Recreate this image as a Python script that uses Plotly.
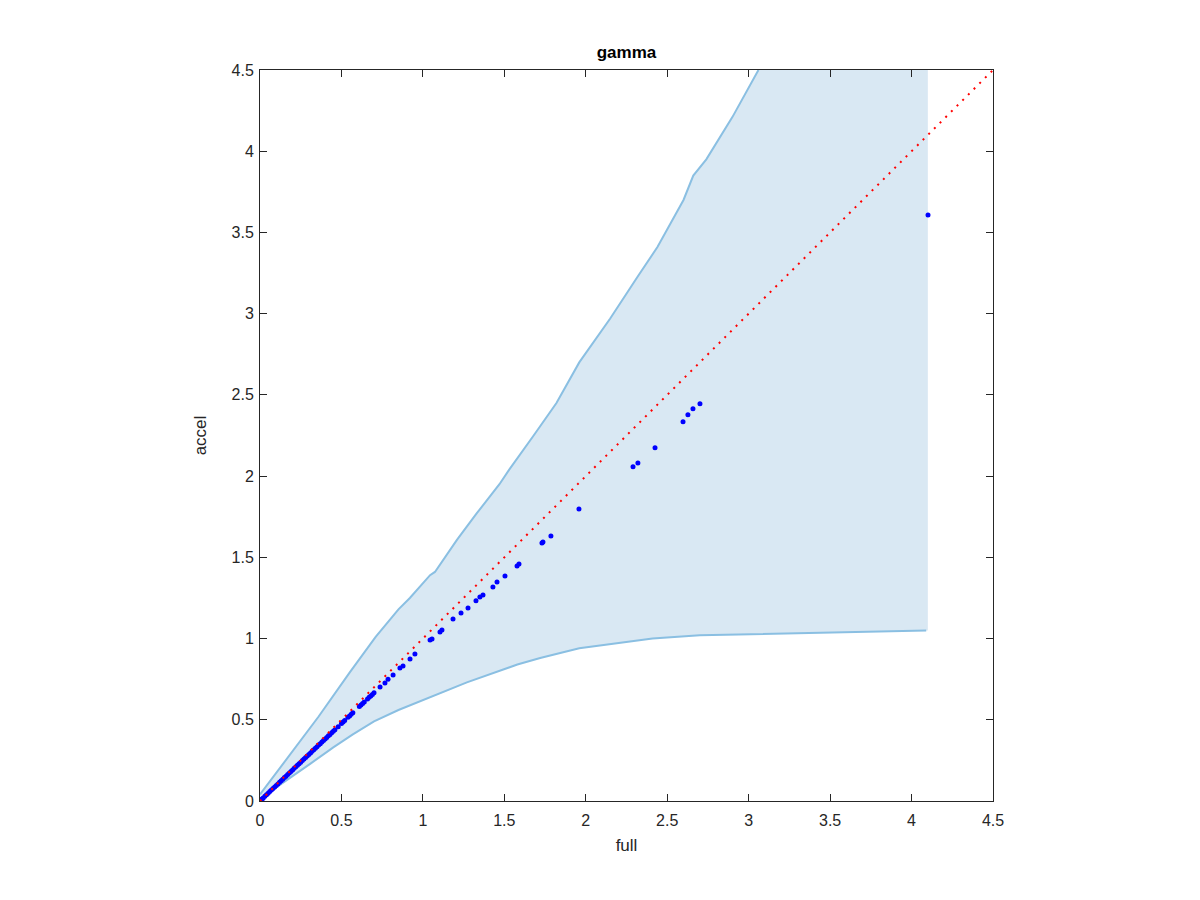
import plotly.graph_objects as go

# Envelope (upper / lower bounds)
upper_x = [0.0, 0.15, 0.36, 0.55, 0.71, 0.85, 0.92, 1.044, 1.074, 1.209, 1.33, 1.47, 1.53,
           1.68, 1.82, 1.96, 2.15, 2.32, 2.44, 2.60, 2.66, 2.74, 2.90, 3.06]
upper_y = [0.04, 0.24, 0.52, 0.79, 1.01, 1.18, 1.25, 1.39, 1.41, 1.607, 1.77, 1.95, 2.04,
           2.25, 2.45, 2.70, 2.97, 3.23, 3.41, 3.70, 3.85, 3.95, 4.21, 4.50]
lower_x = [0.0, 0.08, 0.31, 0.45, 0.57, 0.70, 0.85, 1.0, 1.13, 1.27, 1.58, 1.72, 1.96, 2.41,
           2.70, 4.09]
lower_y = [0.0, 0.07, 0.23, 0.33, 0.41, 0.49, 0.56, 0.62, 0.67, 0.73, 0.84, 0.88, 0.94, 1.00,
           1.02, 1.05]
fill_right_x = 4.1

# full vs accel estimates
full = [0.0, 0.01, 0.015, 0.02, 0.03, 0.04, 0.05, 0.06, 0.07, 0.08, 0.09, 0.10, 0.11, 0.12,
        0.13, 0.14, 0.15, 0.16, 0.17, 0.18, 0.19, 0.20, 0.21, 0.22, 0.23, 0.24, 0.25, 0.26,
        0.27, 0.28, 0.29, 0.30, 0.31, 0.32, 0.33, 0.34, 0.35, 0.36, 0.37, 0.38, 0.39, 0.40,
        0.41, 0.42, 0.43, 0.44, 0.45, 0.46, 0.48, 0.50, 0.51, 0.52, 0.54, 0.55, 0.56, 0.57,
        0.61, 0.62, 0.63, 0.64, 0.66, 0.67, 0.68, 0.69, 0.70,
        0.737, 0.767, 0.786, 0.817, 0.859, 0.878, 0.921, 0.951, 1.044, 1.056, 1.105, 1.117,
        1.185, 1.234, 1.277, 1.326, 1.350, 1.369, 1.430, 1.455, 1.504, 1.578, 1.590, 1.731,
        1.737, 1.786, 1.958, 2.290, 2.320, 2.425, 2.597, 2.627, 2.658, 2.701, 4.101]
accel = [0.0, 0.01, 0.014, 0.019, 0.029, 0.038, 0.048, 0.058, 0.067, 0.077, 0.086, 0.096, 0.105,
         0.115, 0.125, 0.134, 0.144, 0.153, 0.163, 0.172, 0.182, 0.191, 0.201, 0.211, 0.220,
         0.230, 0.239, 0.249, 0.258, 0.268, 0.277, 0.287, 0.296, 0.306, 0.315, 0.325, 0.334,
         0.344, 0.353, 0.363, 0.372, 0.382, 0.391, 0.401, 0.410, 0.420, 0.429, 0.439, 0.457,
         0.477, 0.487, 0.496, 0.515, 0.524, 0.534, 0.543, 0.581, 0.591, 0.600, 0.610, 0.628,
         0.638, 0.647, 0.656, 0.666,
         0.702, 0.727, 0.750, 0.776, 0.819, 0.831, 0.874, 0.905, 0.991, 0.998, 1.041, 1.053,
         1.121, 1.158, 1.188, 1.232, 1.256, 1.268, 1.318, 1.348, 1.385, 1.447, 1.459, 1.589,
         1.595, 1.632, 1.798, 2.057, 2.081, 2.174, 2.334, 2.377, 2.414, 2.445, 3.608]

diag = [0, 4.5]

FILL_COLOR = "rgb(217,232,243)"
EDGE_COLOR = "rgb(138,191,226)"
TEXT_COLOR = "#262626"

fig = go.Figure()

# shaded band: upper curve, across the top, down the right edge, back along the lower curve
poly_x = upper_x + [fill_right_x, fill_right_x] + lower_x[::-1]
poly_y = upper_y + [upper_y[-1], lower_y[-1]] + lower_y[::-1]
fig.add_trace(go.Scatter(x=poly_x, y=poly_y, mode="lines", fill="toself",
                         fillcolor=FILL_COLOR, line=dict(width=0), hoverinfo="skip"))
fig.add_trace(go.Scatter(x=upper_x, y=upper_y, mode="lines",
                         line=dict(color=EDGE_COLOR, width=2)))
fig.add_trace(go.Scatter(x=lower_x, y=lower_y, mode="lines",
                         line=dict(color=EDGE_COLOR, width=2)))

fig.add_trace(go.Scatter(x=full, y=accel, mode="markers",
                         marker=dict(color="rgb(0,0,255)", size=5)))
fig.add_trace(go.Scatter(x=diag, y=diag, mode="lines",
                         line=dict(color="rgb(255,0,0)", width=2, dash="2px,6px")))

axis_style = dict(
    range=[0, 4.5],
    dtick=0.5,
    showgrid=False,
    zeroline=False,
    showline=True,
    linecolor=TEXT_COLOR,
    linewidth=1,
    mirror="ticks",
    ticks="inside",
    ticklen=7,
    tickcolor=TEXT_COLOR,
    tickfont=dict(size=16, color=TEXT_COLOR),
)

fig.update_xaxes(**axis_style, ticklabelstandoff=5,
                 title=dict(text="full", font=dict(size=17, color=TEXT_COLOR), standoff=10))
fig.update_yaxes(**axis_style, ticklabelstandoff=2,
                 title=dict(text="accel", font=dict(size=17, color=TEXT_COLOR), standoff=20))

# page body adds an 8px offset, so margins are shifted to compensate
fig.update_layout(
    width=1200,
    height=900,
    showlegend=False,
    plot_bgcolor="white",
    paper_bgcolor="white",
    font=dict(family="Liberation Sans, Arial, sans-serif"),
    margin=dict(l=252, r=215, t=62, b=107, autoexpand=False),
    title=dict(text="<b>gamma</b>", x=0.5, xref="paper", y=1 - 44 / 900, yref="container",
               xanchor="center", yanchor="middle", font=dict(size=17, color="black")),
)

fig.write_html("out.html")
